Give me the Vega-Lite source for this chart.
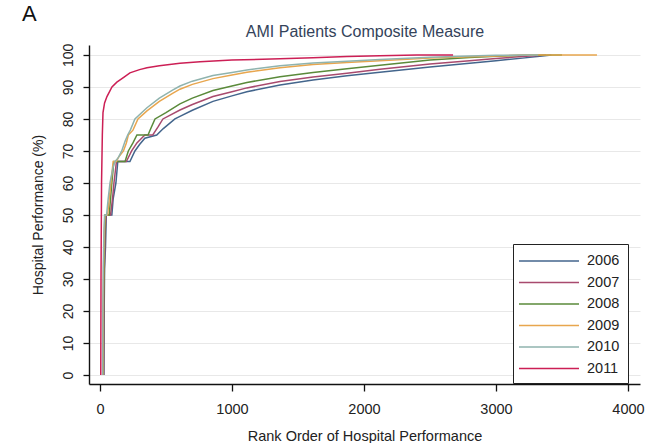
{
  "$schema": "https://vega.github.io/schema/vega-lite/v6.json",
  "width": 551,
  "height": 339,
  "autosize": {"type": "none"},
  "padding": {"left": 89, "top": 45, "right": 13, "bottom": 59},
  "background": "white",
  "title": {"text": "A", "anchor": "start", "frame": "group", "fontSize": 22, "fontWeight": "normal", "font": "Liberation Sans", "color": "#111111", "dx": -67, "offset": -3},
  "config": {"view": {"stroke": null}, "font": "Liberation Sans"},
  "datasets": {
    "curves": [
      {"year":"2006","rank":30,"perf":0},{"year":"2006","rank":32,"perf":20},{"year":"2006","rank":35,"perf":33.3},{"year":"2006","rank":42,"perf":40},{"year":"2006","rank":48,"perf":50},{"year":"2006","rank":90,"perf":50},{"year":"2006","rank":100,"perf":55},{"year":"2006","rank":121,"perf":60},{"year":"2006","rank":135,"perf":66.7},{"year":"2006","rank":227,"perf":66.7},{"year":"2006","rank":265,"perf":70},{"year":"2006","rank":300,"perf":72},{"year":"2006","rank":340,"perf":74},{"year":"2006","rank":430,"perf":75},{"year":"2006","rank":480,"perf":77},{"year":"2006","rank":568,"perf":80},{"year":"2006","rank":606,"perf":80.8},{"year":"2006","rank":700,"perf":82.7},{"year":"2006","rank":856,"perf":85.5},{"year":"2006","rank":1000,"perf":87.2},{"year":"2006","rank":1113,"perf":88.5},{"year":"2006","rank":1364,"perf":90.6},{"year":"2006","rank":1614,"perf":92.2},{"year":"2006","rank":1871,"perf":93.5},{"year":"2006","rank":2121,"perf":94.6},{"year":"2006","rank":2500,"perf":96.2},{"year":"2006","rank":2800,"perf":97.4},{"year":"2006","rank":3000,"perf":98.2},{"year":"2006","rank":3200,"perf":99},{"year":"2006","rank":3350,"perf":99.7},{"year":"2006","rank":3420,"perf":100},
      {"year":"2007","rank":28,"perf":0},{"year":"2007","rank":30,"perf":20},{"year":"2007","rank":33,"perf":33.3},{"year":"2007","rank":40,"perf":45},{"year":"2007","rank":45,"perf":50},{"year":"2007","rank":80,"perf":50},{"year":"2007","rank":95,"perf":55},{"year":"2007","rank":106,"perf":60},{"year":"2007","rank":125,"perf":66.7},{"year":"2007","rank":200,"perf":66.7},{"year":"2007","rank":240,"perf":70},{"year":"2007","rank":280,"perf":72.5},{"year":"2007","rank":340,"perf":75},{"year":"2007","rank":400,"perf":75},{"year":"2007","rank":440,"perf":77.5},{"year":"2007","rank":477,"perf":80},{"year":"2007","rank":606,"perf":82.8},{"year":"2007","rank":700,"perf":84.5},{"year":"2007","rank":856,"perf":87},{"year":"2007","rank":1000,"perf":88.5},{"year":"2007","rank":1113,"perf":89.7},{"year":"2007","rank":1364,"perf":91.7},{"year":"2007","rank":1614,"perf":93.1},{"year":"2007","rank":1871,"perf":94.3},{"year":"2007","rank":2121,"perf":95.5},{"year":"2007","rank":2500,"perf":97.2},{"year":"2007","rank":2800,"perf":98.2},{"year":"2007","rank":3000,"perf":98.9},{"year":"2007","rank":3200,"perf":99.5},{"year":"2007","rank":3380,"perf":100},
      {"year":"2008","rank":25,"perf":0},{"year":"2008","rank":27,"perf":20},{"year":"2008","rank":30,"perf":33.3},{"year":"2008","rank":36,"perf":45},{"year":"2008","rank":40,"perf":50},{"year":"2008","rank":70,"perf":50},{"year":"2008","rank":80,"perf":55},{"year":"2008","rank":90,"perf":60},{"year":"2008","rank":105,"perf":66.7},{"year":"2008","rank":190,"perf":66.7},{"year":"2008","rank":215,"perf":70},{"year":"2008","rank":250,"perf":72.5},{"year":"2008","rank":280,"perf":75},{"year":"2008","rank":364,"perf":75},{"year":"2008","rank":390,"perf":77.5},{"year":"2008","rank":417,"perf":80},{"year":"2008","rank":500,"perf":82},{"year":"2008","rank":606,"perf":84.7},{"year":"2008","rank":700,"perf":86.5},{"year":"2008","rank":856,"perf":88.9},{"year":"2008","rank":1000,"perf":90.3},{"year":"2008","rank":1113,"perf":91.4},{"year":"2008","rank":1364,"perf":93.2},{"year":"2008","rank":1614,"perf":94.5},{"year":"2008","rank":1871,"perf":95.7},{"year":"2008","rank":2121,"perf":96.8},{"year":"2008","rank":2500,"perf":98.4},{"year":"2008","rank":2800,"perf":99.2},{"year":"2008","rank":3000,"perf":99.6},{"year":"2008","rank":3200,"perf":99.9},{"year":"2008","rank":3500,"perf":100},
      {"year":"2009","rank":22,"perf":0},{"year":"2009","rank":24,"perf":20},{"year":"2009","rank":27,"perf":33.3},{"year":"2009","rank":33,"perf":45},{"year":"2009","rank":38,"perf":50},{"year":"2009","rank":58,"perf":50},{"year":"2009","rank":70,"perf":55},{"year":"2009","rank":83,"perf":60},{"year":"2009","rank":100,"perf":66.7},{"year":"2009","rank":125,"perf":66.7},{"year":"2009","rank":140,"perf":68},{"year":"2009","rank":178,"perf":70},{"year":"2009","rank":200,"perf":72.5},{"year":"2009","rank":215,"perf":75},{"year":"2009","rank":250,"perf":76.5},{"year":"2009","rank":288,"perf":80},{"year":"2009","rank":356,"perf":82.5},{"year":"2009","rank":450,"perf":85.5},{"year":"2009","rank":550,"perf":88},{"year":"2009","rank":606,"perf":89.3},{"year":"2009","rank":700,"perf":90.8},{"year":"2009","rank":856,"perf":92.6},{"year":"2009","rank":1000,"perf":93.7},{"year":"2009","rank":1113,"perf":94.6},{"year":"2009","rank":1364,"perf":96},{"year":"2009","rank":1614,"perf":97},{"year":"2009","rank":1871,"perf":97.6},{"year":"2009","rank":2121,"perf":98.2},{"year":"2009","rank":2500,"perf":99},{"year":"2009","rank":2800,"perf":99.4},{"year":"2009","rank":3000,"perf":99.7},{"year":"2009","rank":3300,"perf":100},{"year":"2009","rank":3765,"perf":100},
      {"year":"2010","rank":20,"perf":0},{"year":"2010","rank":22,"perf":20},{"year":"2010","rank":25,"perf":33.3},{"year":"2010","rank":30,"perf":45},{"year":"2010","rank":35,"perf":50},{"year":"2010","rank":50,"perf":50},{"year":"2010","rank":62,"perf":55},{"year":"2010","rank":76,"perf":60},{"year":"2010","rank":100,"perf":65},{"year":"2010","rank":114,"perf":66.7},{"year":"2010","rank":140,"perf":68},{"year":"2010","rank":165,"perf":70},{"year":"2010","rank":190,"perf":73},{"year":"2010","rank":210,"perf":75},{"year":"2010","rank":230,"perf":76.5},{"year":"2010","rank":265,"perf":80},{"year":"2010","rank":356,"perf":83.5},{"year":"2010","rank":450,"perf":86.5},{"year":"2010","rank":550,"perf":89},{"year":"2010","rank":606,"perf":90.3},{"year":"2010","rank":700,"perf":91.8},{"year":"2010","rank":856,"perf":93.6},{"year":"2010","rank":1000,"perf":94.5},{"year":"2010","rank":1113,"perf":95.3},{"year":"2010","rank":1364,"perf":96.6},{"year":"2010","rank":1614,"perf":97.5},{"year":"2010","rank":1871,"perf":98},{"year":"2010","rank":2121,"perf":98.6},{"year":"2010","rank":2500,"perf":99.3},{"year":"2010","rank":2800,"perf":99.7},{"year":"2010","rank":3000,"perf":99.9},{"year":"2010","rank":3320,"perf":100},
      {"year":"2011","rank":6,"perf":0},{"year":"2011","rank":8,"perf":30},{"year":"2011","rank":12,"perf":60},{"year":"2011","rank":18,"perf":75},{"year":"2011","rank":23,"perf":82},{"year":"2011","rank":35,"perf":85},{"year":"2011","rank":53,"perf":87},{"year":"2011","rank":91,"perf":90},{"year":"2011","rank":128,"perf":91.5},{"year":"2011","rank":180,"perf":93},{"year":"2011","rank":227,"perf":94.4},{"year":"2011","rank":300,"perf":95.4},{"year":"2011","rank":356,"perf":96},{"year":"2011","rank":450,"perf":96.6},{"year":"2011","rank":606,"perf":97.4},{"year":"2011","rank":758,"perf":97.9},{"year":"2011","rank":1000,"perf":98.4},{"year":"2011","rank":1364,"perf":98.8},{"year":"2011","rank":1614,"perf":99.1},{"year":"2011","rank":1871,"perf":99.5},{"year":"2011","rank":2121,"perf":99.75},{"year":"2011","rank":2400,"perf":100},{"year":"2011","rank":2675,"perf":100}
    ]
  },
  "data": {"name": "curves"},
  "layer": [
    {
      "mark": {"type": "line", "interpolate": "linear"},
      "encoding": {
        "x": {
          "field": "rank", "type": "quantitative",
          "scale": {"domain": [-83, 4091], "nice": false, "zero": false},
          "axis": {"orient": "bottom", "values": [0, 1000, 2000, 3000, 4000], "format": "d", "grid": false, "domainColor": "#111111", "domainWidth": 1.4, "tickColor": "#111111", "tickWidth": 1.3, "tickSize": 7, "labelFontSize": 14.5, "labelColor": "#222222", "labelPadding": 11, "title": "Rank Order of Hospital Performance", "titleFontSize": 14.5, "titleFontWeight": "normal", "titleColor": "#222222", "titlePadding": 14}
        },
        "y": {
          "field": "perf", "type": "quantitative",
          "scale": {"domain": [-2.8, 103.1], "nice": false, "zero": false},
          "axis": {"values": [0, 10, 20, 30, 40, 50, 60, 70, 80, 90, 100], "grid": true, "gridColor": "#e8e8e8", "gridWidth": 1, "domainColor": "#111111", "domainWidth": 1.4, "tickColor": "#111111", "tickWidth": 1.3, "tickSize": 6, "labelAngle": -90, "labelAlign": "center", "labelBaseline": "bottom", "labelFontSize": 14, "labelColor": "#222222", "labelPadding": 8, "title": "Hospital Performance (%)", "titleFontSize": 14, "titleFontWeight": "normal", "titleColor": "#222222", "titlePadding": 16}
        },
        "color": {
          "field": "year", "type": "nominal",
          "scale": {"domain": ["2006", "2007", "2008", "2009", "2010", "2011"], "range": ["#43658c", "#a84a6e", "#5a8a3a", "#e8a64e", "#8fb3ae", "#cc1f55"]},
          "legend": {"orient": "none", "legendX": 424, "legendY": 199, "title": null, "symbolType": "M-1,0H6.5", "symbolSize": 256, "symbolOffset": -3, "symbolStrokeWidth": 2, "padding": 8, "labelOffset": 51, "labelFontSize": 14.5, "labelColor": "#222222", "strokeColor": "#222222", "fillColor": "white", "rowPadding": 5.5, "cornerRadius": 0}
        },
        "strokeWidth": {
          "field": "year", "type": "nominal",
          "scale": {"domain": ["2006", "2007", "2008", "2009", "2010", "2011"], "range": [1.5, 1.5, 2, 1.5, 1.5, 2.2]},
          "legend": null
        },
        "order": {"field": "rank", "type": "quantitative"}
      }
    },
    {
      "mark": {"type": "rule", "opacity": 0},
      "encoding": {
        "x": {
          "field": "rank", "type": "quantitative",
          "scale": {"domain": [-83, 4091], "nice": false, "zero": false},
          "axis": {"orient": "top", "domain": false, "ticks": false, "labels": false, "grid": false, "title": "AMI Patients Composite Measure", "titleFontSize": 16, "titleFontWeight": "normal", "titleColor": "#34435a", "titlePadding": 6}
        }
      }
    }
  ],
  "resolve": {"axis": {"x": "independent"}}
}
